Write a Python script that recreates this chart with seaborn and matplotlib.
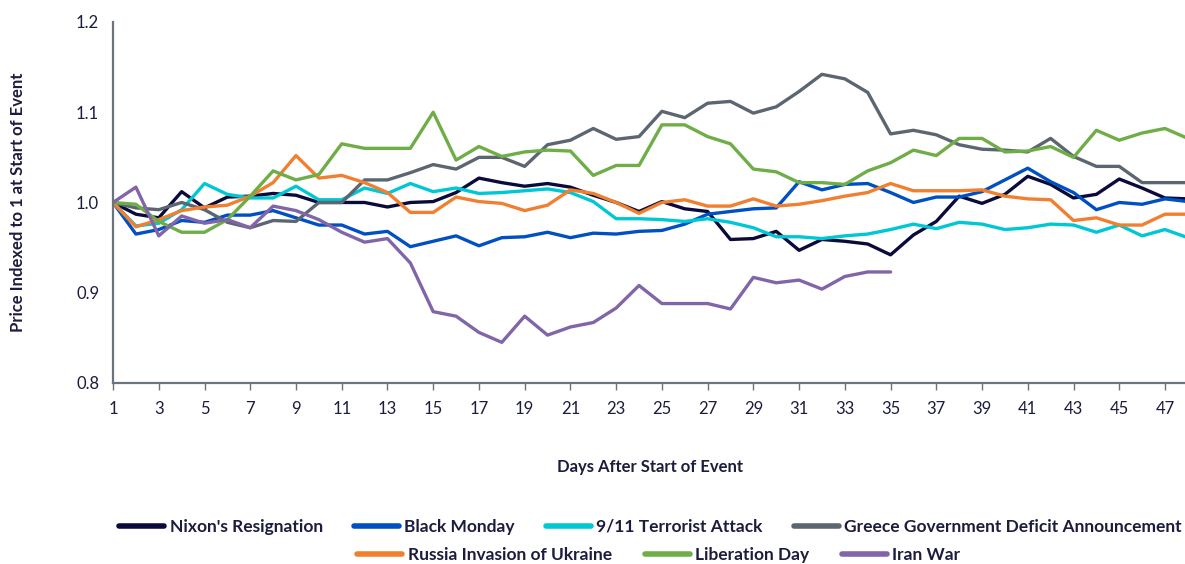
import numpy as np
import pandas as pd
import matplotlib
matplotlib.use("Agg")
import matplotlib.pyplot as plt
import seaborn as sns

# values (price indexed to 1 at start)
nixon = [1.000, 0.987, 0.983, 1.012, 0.994, 1.006, 1.007, 1.010, 1.008, 1.000,
         1.000, 1.000, 0.995, 1.000, 1.001, 1.011, 1.027, 1.022, 1.018, 1.021,
         1.017, 1.008, 1.000, 0.990, 1.001, 0.993, 0.990, 0.959, 0.960, 0.968,
         0.947, 0.959, 0.957, 0.954, 0.942, 0.964, 0.979, 1.007, 0.999, 1.009,
         1.029, 1.020, 1.005, 1.009, 1.026, 1.016, 1.005, 1.004]
black_monday = [1.000, 0.965, 0.970, 0.980, 0.978, 0.986, 0.986, 0.991, 0.983, 0.975,
                0.975, 0.965, 0.968, 0.951, 0.957, 0.963, 0.952, 0.961, 0.962, 0.967,
                0.961, 0.966, 0.965, 0.968, 0.969, 0.976, 0.987, 0.990, 0.993, 0.994,
                1.023, 1.014, 1.020, 1.021, 1.011, 1.000, 1.006, 1.006, 1.012, 1.025,
                1.038, 1.023, 1.011, 0.992, 1.000, 0.998, 1.004, 1.001]
sept11 = [1.000, 0.974, 0.977, 0.992, 1.021, 1.009, 1.005, 1.005, 1.018, 1.003,
          1.003, 1.016, 1.010, 1.021, 1.012, 1.016, 1.010, 1.011, 1.013, 1.015,
          1.011, 1.001, 0.982, 0.982, 0.981, 0.979, 0.982, 0.978, 0.972, 0.962,
          0.962, 0.960, 0.963, 0.965, 0.970, 0.976, 0.971, 0.978, 0.976, 0.970,
          0.972, 0.976, 0.975, 0.967, 0.975, 0.963, 0.970, 0.961]
greece = [1.000, 0.994, 0.992, 1.000, 0.992, 0.978, 0.972, 0.980, 0.979, 1.000,
          1.000, 1.025, 1.025, 1.033, 1.042, 1.037, 1.050, 1.050, 1.040, 1.064,
          1.069, 1.082, 1.070, 1.073, 1.101, 1.094, 1.110, 1.112, 1.099, 1.106,
          1.123, 1.142, 1.137, 1.122, 1.076, 1.080, 1.075, 1.064, 1.059, 1.058,
          1.056, 1.071, 1.051, 1.040, 1.040, 1.022, 1.022, 1.022]
russia = [1.000, 0.973, 0.981, 0.991, 0.995, 0.997, 1.007, 1.022, 1.052, 1.027,
          1.030, 1.022, 1.011, 0.989, 0.989, 1.006, 1.001, 0.999, 0.991, 0.997,
          1.014, 1.010, 1.000, 0.988, 1.000, 1.003, 0.996, 0.996, 1.004, 0.996,
          0.998, 1.002, 1.007, 1.011, 1.021, 1.013, 1.013, 1.013, 1.014, 1.007,
          1.004, 1.003, 0.980, 0.983, 0.975, 0.975, 0.987, 0.987]
liberation = [1.000, 0.998, 0.979, 0.967, 0.967, 0.981, 1.007, 1.035, 1.025, 1.031,
              1.065, 1.060, 1.060, 1.060, 1.100, 1.047, 1.062, 1.051, 1.056, 1.058,
              1.057, 1.030, 1.041, 1.041, 1.086, 1.086, 1.073, 1.065, 1.037, 1.034,
              1.022, 1.022, 1.020, 1.035, 1.044, 1.058, 1.052, 1.071, 1.071, 1.056,
              1.057, 1.062, 1.050, 1.080, 1.069, 1.077, 1.082, 1.071]
iran = [1.000, 1.017, 0.963, 0.985, 0.977, 0.981, 0.972, 0.996, 0.991, 0.981,
        0.967, 0.956, 0.960, 0.933, 0.879, 0.874, 0.856, 0.845, 0.874, 0.853,
        0.862, 0.867, 0.883, 0.908, 0.888, 0.888, 0.888, 0.882, 0.917, 0.911,
        0.914, 0.904, 0.918, 0.923, 0.923]

series_names = ["Nixon's Resignation", "Black Monday", "9/11 Terrorist Attack",
                "Greece Government Deficit Announcement", "Russia Invasion of Ukraine",
                "Liberation Day", "Iran War"]
series_values = [nixon, black_monday, sept11, greece, russia, liberation, iran]
colors = ["#0b0b3b", "#0050c3", "#00c7d4", "#5b6670", "#f08030", "#6fad47", "#8165a9"]

rows = []
for name, vals in zip(series_names, series_values):
    for i, v in enumerate(vals):
        rows.append({"day": i + 1, "value": v, "event": name})
df = pd.DataFrame(rows)

sns.set_theme(style="white")
plt.rcParams['font.family'] = ['Lato', 'DejaVu Sans']
text_color = "#1c1c3c"
axis_color = "#6b737b"

fig = plt.figure(figsize=(11.85, 5.64), dpi=100)
ax = fig.add_axes([0.0954, 0.321, 0.907, 0.640])

sns.lineplot(data=df, x="day", y="value", hue="event", hue_order=series_names,
             palette=colors, linewidth=2.4, ax=ax, legend=False)

ax.set_xlim(1, 48)
ax.set_ylim(0.8, 1.2)
ax.set_xticks(np.arange(1, 48, 2))
ax.set_yticks([0.8, 0.9, 1.0, 1.1, 1.2])
ax.set_yticklabels(["0.8", "0.9", "1.0", "1.1", "1.2"])
ax.tick_params(axis="x", direction="out", length=5, width=1, color=axis_color,
               labelsize=12, labelcolor=text_color, pad=8, bottom=True)
ax.tick_params(axis="y", length=0, labelsize=12, labelcolor=text_color, pad=10)

for side in ["top", "right"]:
    ax.spines[side].set_visible(False)
for side in ["left", "bottom"]:
    ax.spines[side].set_color(axis_color)
    ax.spines[side].set_linewidth(1.6)

ax.set_xlabel("Days After Start of Event", fontsize=12, fontweight="bold",
              color=text_color, labelpad=30)
ax.set_ylabel("Price Indexed to 1 at Start of Event", fontsize=12, fontweight="bold",
              color=text_color, labelpad=36)

# legend in two centred rows
handles = [plt.Line2D([], [], color=c, linewidth=4) for c in colors]
leg1 = fig.legend(handles[:4], series_names[:4], loc="center", ncol=4,
                  bbox_to_anchor=(0.549, 0.066), frameon=False,
                  handlelength=2.6, handletextpad=0.3, columnspacing=1.8,
                  prop={"weight": "bold", "size": 12.5})
leg2 = fig.legend(handles[4:], series_names[4:], loc="center", ncol=3,
                  bbox_to_anchor=(0.556, 0.016), frameon=False,
                  handlelength=2.6, handletextpad=0.3, columnspacing=1.9,
                  prop={"weight": "bold", "size": 12.5})
for leg in (leg1, leg2):
    for t in leg.get_texts():
        t.set_color(text_color)

fig.savefig("out.png", dpi=100)
